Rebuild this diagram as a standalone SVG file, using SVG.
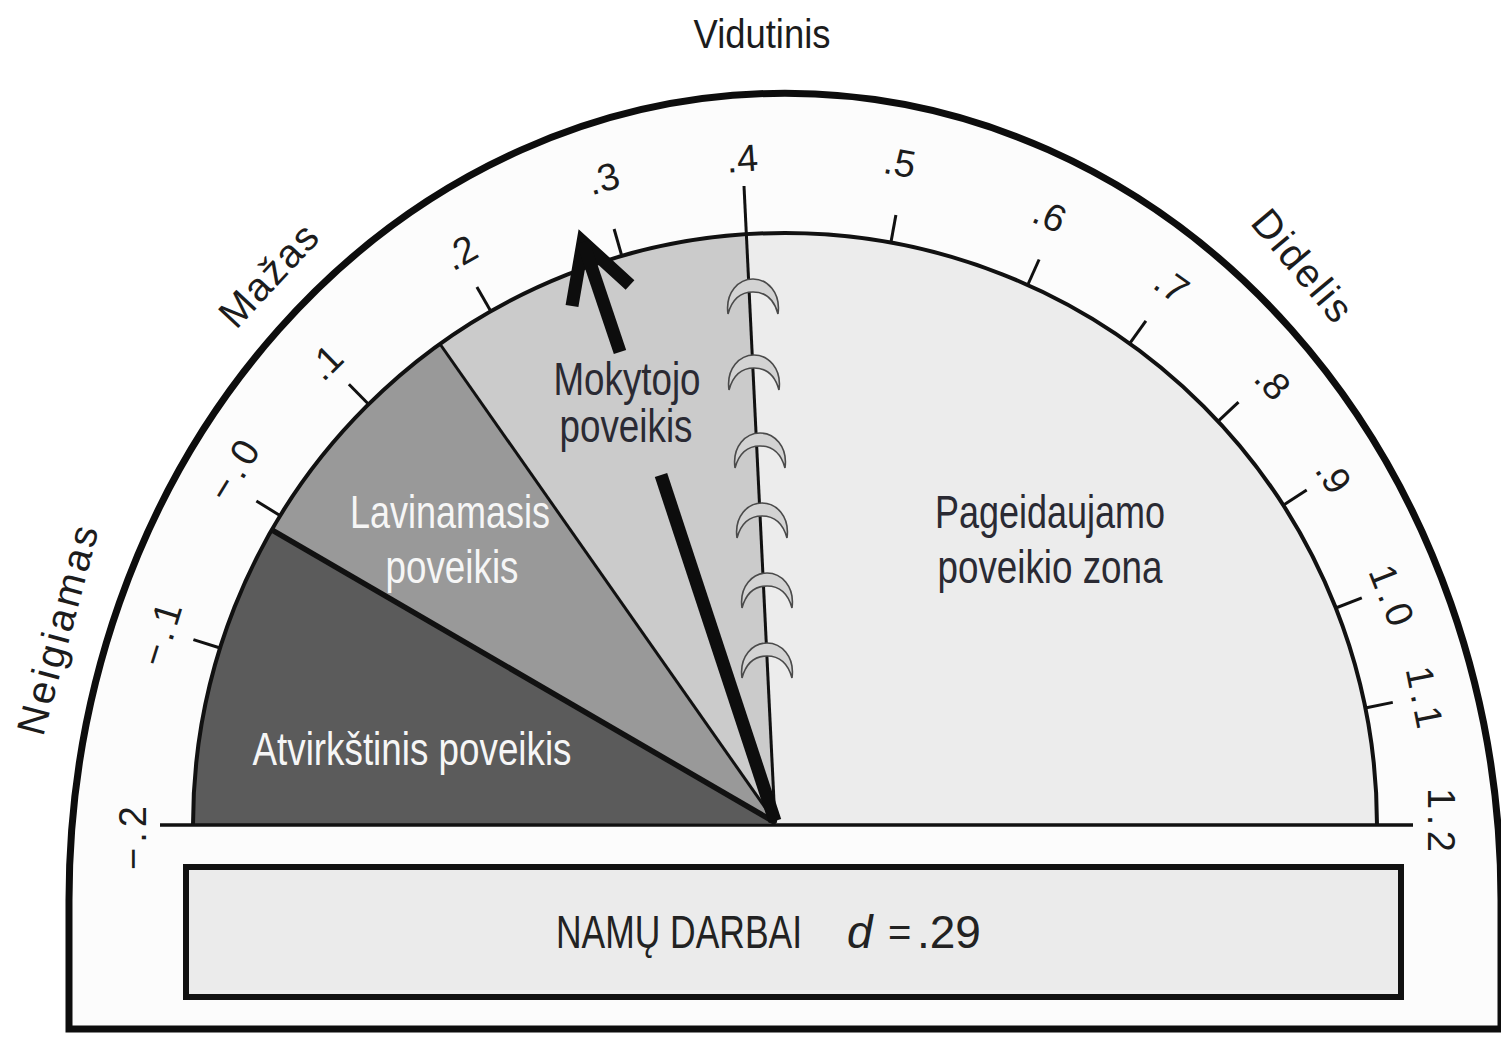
<svg xmlns="http://www.w3.org/2000/svg" xmlns:xlink="http://www.w3.org/1999/xlink" width="1501" height="1038" viewBox="0 0 1501 1038">
  <style>
    text { font-family: "Liberation Sans", Arial, Helvetica, sans-serif; }
    .tick { font-size: 38px; fill: #1c1c1c; text-anchor: middle; }
    .cat { font-size: 40px; fill: #1c1c1c; text-anchor: middle; }
    .dark { font-size: 46px; fill: #2a2a33; text-anchor: middle; }
    .white { font-size: 46px; fill: #f6f6f6; text-anchor: middle; }
    .tk { stroke: #111; stroke-width: 3; fill: none; }
    .hook { fill: #d3d3d3; stroke: #4a4a4a; stroke-width: 1.6; }
    .needle { stroke: #0d0d0d; stroke-width: 13; fill: none; stroke-linecap: butt; }
  </style>
  <defs>
    <path id="hk" class="hook" d="M -25 18 C -28 -4 -14 -17 0 -17 C 14 -17 28 -4 25 18 C 22 7 15 -4 0 -4 C -15 -4 -22 7 -25 18 Z"/>
  </defs>

  <rect x="0" y="0" width="1501" height="1038" fill="#ffffff"/>

  <!-- outer dial -->
  <g id="dial-outer">
    <path d="M 69 1029 L 69 900 A 716 807 0 0 1 1501 900 L 1501 1029 Z" fill="#fcfcfc" stroke="#0d0d0d" stroke-width="7"/>
  </g>

  <!-- inner zones -->
  <g id="zone-desired">
    <path d="M 193 825 A 592 592 0 0 1 1377 825 Z" fill="#ececec"/>
  </g>
  <g id="zone-reverse">
    <path d="M 776 823 L 193 825 A 592 592 0 0 1 271.8 529.9 Z" fill="#5b5b5b"/>
  </g>
  <g id="zone-developmental">
    <path d="M 776 823 L 271.8 529.9 A 592 592 0 0 1 440 344 Z" fill="#999999"/>
  </g>
  <g id="zone-teacher">
    <path d="M 776 823 L 440 344 A 592 592 0 0 1 745 234.4 Z" fill="#cbcbcb"/>
  </g>

  <!-- outlines, boundaries and ticks -->
  <g id="connectors">
    <path d="M 193 825 A 592 592 0 0 1 1377 825" fill="none" stroke="#111" stroke-width="4"/>
    <line x1="160" y1="825" x2="1413" y2="825" stroke="#111" stroke-width="3.5"/>
    <line x1="776" y1="823" x2="271.8" y2="529.9" stroke="#111" stroke-width="5.5"/>
    <line x1="776" y1="823" x2="440" y2="344" stroke="#111" stroke-width="3"/>
    <line x1="744" y1="186" x2="775" y2="822" stroke="#111" stroke-width="3"/>
    <g id="ticks">
      <line class="tk" x1="220.1" y1="648.0" x2="193.4" y2="639.6"/>
      <line class="tk" x1="280.3" y1="515.7" x2="256.4" y2="501.0"/>
      <line class="tk" x1="368.6" y1="404.2" x2="348.9" y2="384.3"/>
      <line class="tk" x1="490.8" y1="311.3" x2="476.9" y2="287.0"/>
      <line class="tk" x1="621.8" y1="255.9" x2="614.1" y2="229.0"/>
      <line class="tk" x1="890.9" y1="242.5" x2="895.9" y2="215.0"/>
      <line class="tk" x1="1027.7" y1="285.0" x2="1039.1" y2="259.5"/>
      <line class="tk" x1="1129.6" y1="343.6" x2="1145.9" y2="320.9"/>
      <line class="tk" x1="1218.0" y1="421.3" x2="1238.5" y2="402.2"/>
      <line class="tk" x1="1283.2" y1="505.2" x2="1306.7" y2="490.1"/>
      <line class="tk" x1="1335.8" y1="608.0" x2="1361.8" y2="597.8"/>
      <line class="tk" x1="1365.3" y1="708.0" x2="1392.8" y2="702.4"/>
    </g>
  </g>

  <!-- hooks along the .4 line -->
  <g id="hooks">
    <use xlink:href="#hk" href="#hk" x="753" y="296"/>
    <use xlink:href="#hk" href="#hk" x="754" y="372"/>
    <use xlink:href="#hk" href="#hk" x="760" y="450"/>
    <use xlink:href="#hk" href="#hk" x="762" y="520"/>
    <use xlink:href="#hk" href="#hk" x="767" y="590"/>
    <use xlink:href="#hk" href="#hk" x="767" y="660"/>
  </g>

  <!-- needle -->
  <g id="needle">
    <polyline class="needle" points="572,306 583,242 630,285" stroke-linejoin="miter"/>
    <line class="needle" x1="583" y1="242" x2="620" y2="352"/>
    <line class="needle" x1="661" y1="475" x2="775" y2="821"/>
  </g>

  <!-- scale labels -->
  <g id="scale-labels">
    <text class="tick" transform="translate(132 838) rotate(-90)" dy="0.36em" textLength="64" lengthAdjust="spacing">−.2</text>
    <text class="tick" transform="translate(160 634) rotate(-72.6)" dy="0.36em" textLength="64" lengthAdjust="spacing">−.1</text>
    <text class="tick" transform="translate(233 470) rotate(-58.5)" dy="0.36em" textLength="64" lengthAdjust="spacing">−.0</text>
    <text class="tick" transform="translate(325 362) rotate(-44.7)" dy="0.36em">.1</text>
    <text class="tick" transform="translate(460 252) rotate(-29.8)" dy="0.36em">.2</text>
    <text class="tick" transform="translate(603 178) rotate(-16)" dy="0.36em">.3</text>
    <text class="tick" transform="translate(742 158) rotate(-4)" dy="0.36em">.4</text>
    <text class="tick" transform="translate(900 162) rotate(10.3)" dy="0.36em">.5</text>
    <text class="tick" transform="translate(1050 215) rotate(24.2)" dy="0.36em">.6</text>
    <text class="tick" transform="translate(1172 285) rotate(35.6)" dy="0.36em">.7</text>
    <text class="tick" transform="translate(1273 382) rotate(47)" dy="0.36em">.8</text>
    <text class="tick" transform="translate(1334 476) rotate(57.3)" dy="0.36em">.9</text>
    <text class="tick" transform="translate(1392 595) rotate(68.5)" dy="0.36em" textLength="62" lengthAdjust="spacing">1.0</text>
    <text class="tick" transform="translate(1425 697) rotate(78.6)" dy="0.36em" textLength="62" lengthAdjust="spacing">1.1</text>
    <text class="tick" transform="translate(1442 820) rotate(90)" dy="0.36em" textLength="64" lengthAdjust="spacing">1.2</text>
  </g>

  <!-- category labels -->
  <g id="category-labels">
    <text class="cat" x="762" y="48" font-size="44" textLength="137" lengthAdjust="spacingAndGlyphs">Vidutinis</text>
    <text class="cat" transform="translate(268 275) rotate(-47)" dy="0.36em" textLength="125" lengthAdjust="spacing">Mažas</text>
    <text class="cat" transform="translate(1303 265) rotate(50)" dy="0.36em" textLength="133" lengthAdjust="spacing">Didelis</text>
    <text class="cat" transform="translate(57 630) rotate(-75)" dy="0.36em" textLength="215" lengthAdjust="spacing">Neigiamas</text>
  </g>

  <!-- zone labels -->
  <g id="label-teacher">
    <text class="dark" x="627" y="395" textLength="147" lengthAdjust="spacingAndGlyphs">Mokytojo</text>
    <text class="dark" x="626" y="442" textLength="133" lengthAdjust="spacingAndGlyphs">poveikis</text>
  </g>
  <g id="label-developmental">
    <text class="white" x="450" y="528" textLength="200" lengthAdjust="spacingAndGlyphs">Lavinamasis</text>
    <text class="white" x="452" y="583" textLength="133" lengthAdjust="spacingAndGlyphs">poveikis</text>
  </g>
  <g id="label-reverse">
    <text class="white" x="412" y="765" textLength="319" lengthAdjust="spacingAndGlyphs">Atvirkštinis poveikis</text>
  </g>
  <g id="label-desired">
    <text class="dark" x="1050" y="528" textLength="230" lengthAdjust="spacingAndGlyphs">Pageidaujamo</text>
    <text class="dark" x="1050" y="583" textLength="225" lengthAdjust="spacingAndGlyphs">poveikio zona</text>
  </g>

  <!-- bottom box -->
  <g id="box">
    <rect x="186" y="867" width="1215" height="130" fill="#ebebeb" stroke="#111" stroke-width="6"/>
    <text transform="translate(556 948) scale(0.77 1)" font-size="46" fill="#222">NAMŲ DARBAI</text>
    <text y="948" font-size="46" fill="#222"><tspan x="847" font-style="italic">d</tspan><tspan x="888" font-size="40" dy="-2">=</tspan><tspan x="917" dy="2">.29</tspan></text>
  </g>
</svg>
